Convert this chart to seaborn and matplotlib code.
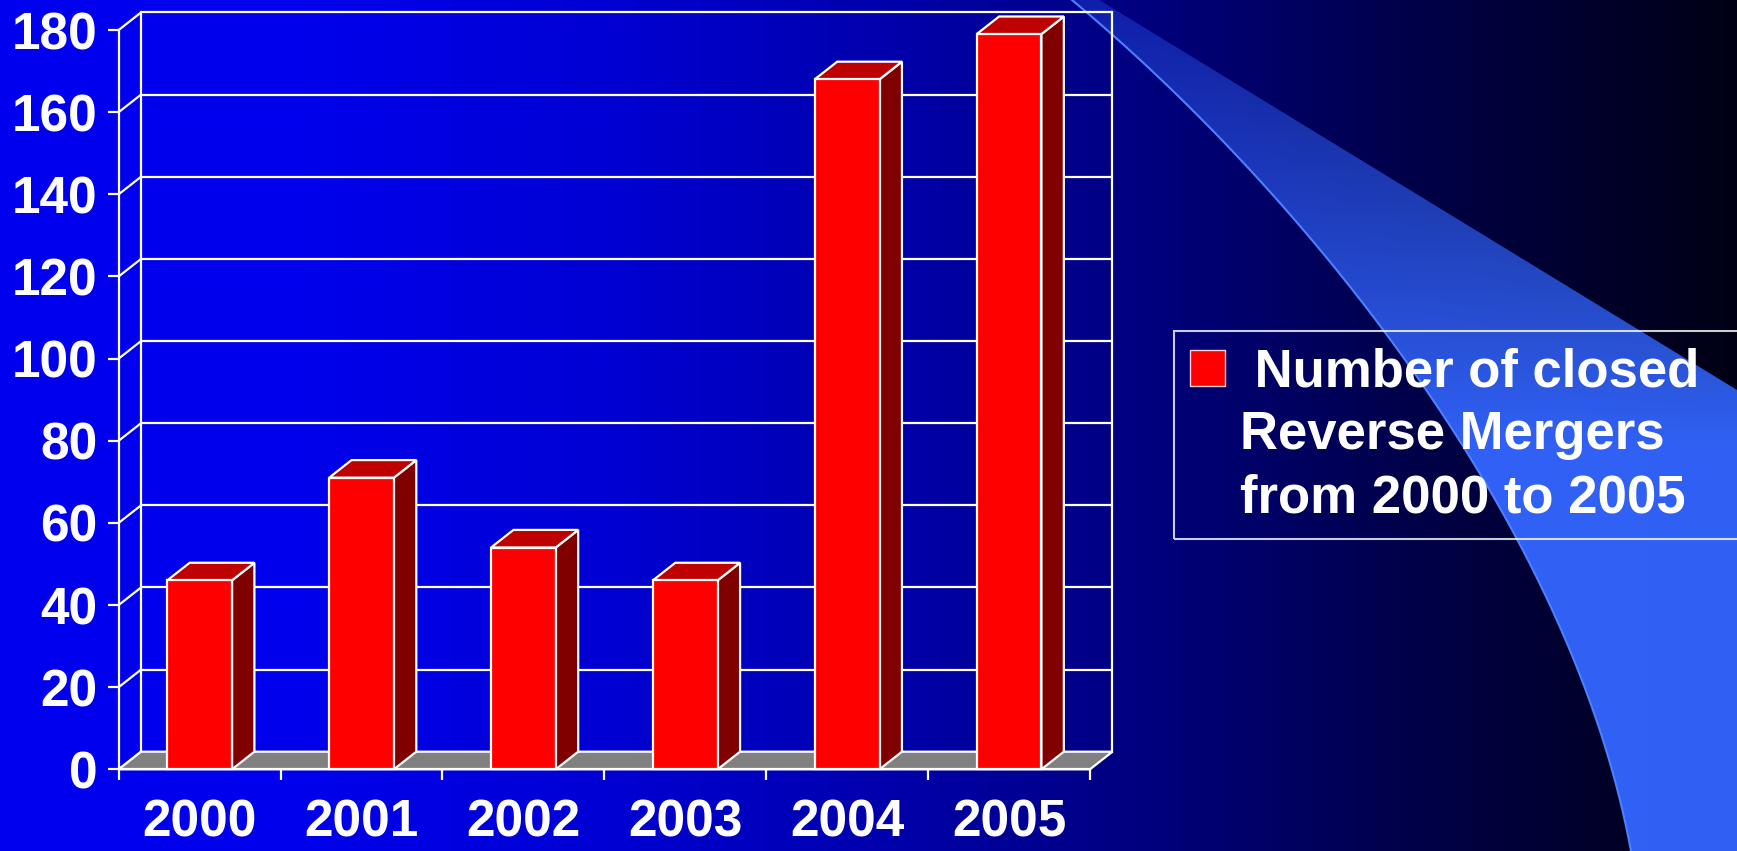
import numpy as np
import matplotlib
matplotlib.use("Agg")
import matplotlib.pyplot as plt
from matplotlib.patches import Polygon, Rectangle, PathPatch
from matplotlib.path import Path
import seaborn as sns
import pandas as pd

# ---------------- data ----------------
years = ["2000", "2001", "2002", "2003", "2004", "2005"]
closed_mergers = [46, 71, 54, 46, 168, 179]
y_ticks = [0, 20, 40, 60, 80, 100, 120, 140, 160, 180]
legend_lines = [" Number of closed", "Reverse Mergers", "from 2000 to 2005"]

plt.rcParams["font.family"] = ["Liberation Sans", "DejaVu Sans"]
plt.rcParams["font.weight"] = "bold"

W, H = 1737, 851
fig = plt.figure(figsize=(W / 100, H / 100), dpi=100)

# ---------------- background (gradient + swoosh) ----------------
bg = fig.add_axes([0, 0, 1, 1])
bg.set_xlim(0, W)
bg.set_ylim(H, 0)
bg.axis("off")
xs = np.arange(W)
stops_x = [0, 300, 600, 900, 1150, 1400, 1737]
stops_b = [240, 236, 212, 170, 125, 75, 20]
blue = np.interp(xs, stops_x, stops_b) / 255.0
img = np.zeros((H, W, 3))
img[..., 2] = blue[None, :]
bg.imshow(img, extent=(0, W, H, 0), aspect="auto", interpolation="bilinear", zorder=0)

tt = np.linspace(0, 1, 300)[:, None]
P = np.array([[1072, 0], [1300, 190], [1570, 520], [1631, 851]], dtype=float)
curve = ((1 - tt) ** 3) * P[0] + 3 * ((1 - tt) ** 2) * tt * P[1] + 3 * (1 - tt) * tt ** 2 * P[2] + tt ** 3 * P[3]
poly = np.vstack([[[1072, -5]], curve, [[1631, H + 5], [W + 5, H + 5], [W + 5, 393], [1091, -5]]])
yy = np.arange(H)[:, None] * np.ones((1, W))
t = np.clip(0.3 + 0.7 * yy / 480.0, 0, 0.95)[..., None]
band_col = np.array([0.2, 0.4, 1.0])
band = img * (1 - t) + band_col * t
im2 = bg.imshow(band, extent=(0, W, H, 0), aspect="auto", interpolation="bilinear", zorder=1)
clip = PathPatch(Path(poly), transform=bg.transData, facecolor="none", edgecolor="none")
bg.add_patch(clip)
im2.set_clip_path(clip)
bg.plot(curve[:, 0], curve[:, 1], color="#4C80FF", lw=1.5, zorder=2)

# ---------------- main axes ----------------
x_front0, x_front1 = 118.7, 1090.0
y_zero, y_top = 769.3, 30.0
ax = fig.add_axes([x_front0 / W, (H - y_zero) / H, (x_front1 - x_front0) / W, (y_zero - y_top) / H])
ax.patch.set_visible(False)

df = pd.DataFrame({"year": years, "count": closed_mergers})
sns.barplot(data=df, x="year", y="count", color="#FF0000", saturation=1, width=0.4,
            edgecolor="white", linewidth=1.6, ax=ax, zorder=3)
ax.set_xlim(-0.5, 5.5)
ax.set_ylim(0, 180)
ax.set_xlabel("")
ax.set_ylabel("")

# depth offset expressed in data units
dxd = 22.4 / ((x_front1 - x_front0) / 6.0)
dyd = 17.6 / ((y_zero - y_top) / 180.0)
xl, xr = -0.5, 5.5
lw = 1.6

# back wall + left wall lines
for v in y_ticks:
    ax.plot([xl, xl + dxd], [v, v + dyd], color="white", lw=lw, zorder=1, clip_on=False, solid_capstyle="butt")
    if v > 0:
        ax.plot([xl + dxd, xr + dxd], [v + dyd, v + dyd], color="white", lw=lw, zorder=1, clip_on=False, solid_capstyle="butt")
ax.plot([xl + dxd, xl + dxd], [dyd, 180 + dyd], color="white", lw=lw, zorder=1, clip_on=False)
ax.plot([xr + dxd, xr + dxd], [dyd, 180 + dyd], color="white", lw=lw, zorder=1, clip_on=False)
floor = Polygon([(xl, 0), (xr, 0), (xr + dxd, dyd), (xl + dxd, dyd)], closed=True,
                facecolor="#808080", edgecolor="white", lw=lw, zorder=1.5, clip_on=False)
ax.add_patch(floor)

bars = [p for p in ax.patches if p is not floor]
for p in bars:
    p.set_clip_on(False)
    x0 = p.get_x()
    x1 = x0 + p.get_width()
    v = p.get_height()
    side = Polygon([(x1, 0), (x1 + dxd, dyd), (x1 + dxd, v + dyd), (x1, v)], closed=True,
                   facecolor="#800000", edgecolor="white", lw=lw, zorder=2.9, clip_on=False)
    top = Polygon([(x0, v), (x1, v), (x1 + dxd, v + dyd), (x0 + dxd, v + dyd)], closed=True,
                  facecolor="#BF0000", edgecolor="white", lw=lw, zorder=2.9, clip_on=False)
    ax.add_patch(side)
    ax.add_patch(top)

# spines / ticks
for s in ["top", "right"]:
    ax.spines[s].set_visible(False)
for s in ["left", "bottom"]:
    ax.spines[s].set_color("white")
    ax.spines[s].set_linewidth(lw)

ax.set_yticks(y_ticks)
ax.set_yticklabels([str(v) for v in y_ticks])
ax.tick_params(axis="y", colors="white", length=8.2, width=lw, pad=7, labelsize=37, direction="out")
ax.set_xticks(range(len(years)))
ax.set_xticklabels(years)
ax.set_xticks(np.arange(-0.5, len(years), 1.0), minor=True)
ax.tick_params(axis="x", which="major", length=0, pad=21.0, labelsize=37, colors="white")
ax.tick_params(axis="x", which="minor", length=8.2, width=lw, color="white", direction="out")
for lab in ax.get_xticklabels() + ax.get_yticklabels():
    lab.set_fontweight("bold")

# ---------------- legend ----------------
h1 = Rectangle((0, 0), 1, 1, facecolor="#FF0000", edgecolor="#FFD0D0", lw=1.0)
h_blank = Rectangle((0, 0), 1, 1, facecolor="none", edgecolor="none")
leg = fig.legend([h1, h_blank, h_blank], legend_lines, loc="upper left",
                 bbox_to_anchor=(0.6759, 0.6105 - 0.4, 0.37, 0.4), mode="expand",
                 borderaxespad=0, borderpad=0.3, labelspacing=0.245, handlelength=0.66,
                 handleheight=0.67, handletextpad=0.29, labelcolor="white", frameon=True,
                 fancybox=False, prop={"family": "Liberation Sans", "weight": "bold", "size": 38})
fr = leg.get_frame()
fr.set_facecolor("none")
fr.set_edgecolor("white")
fr.set_linewidth(1.5)

fig.savefig("out.png", dpi=100)
